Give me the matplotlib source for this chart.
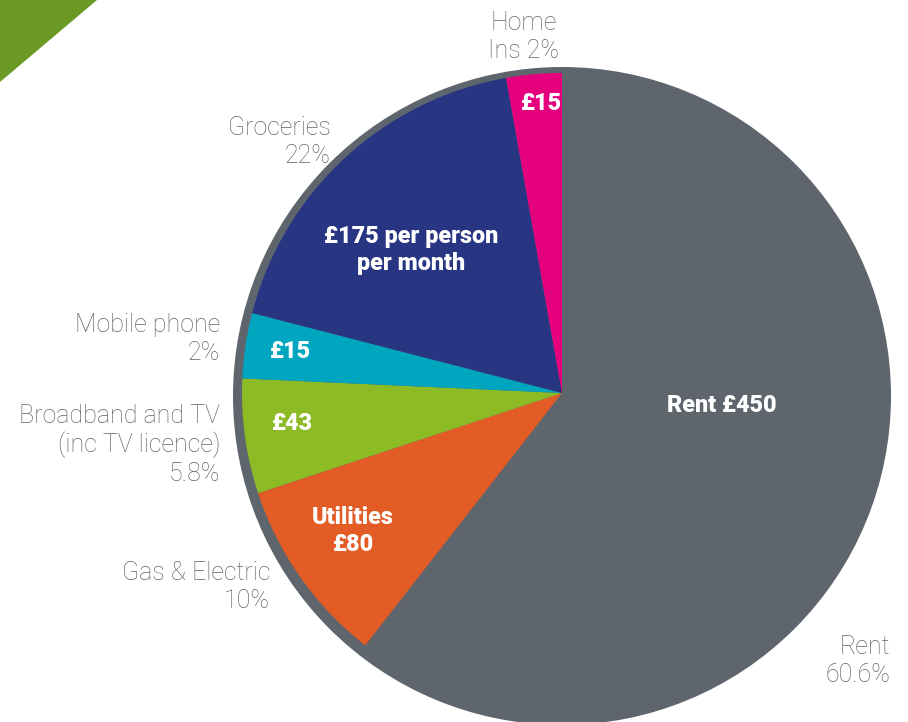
import matplotlib
matplotlib.use("Agg")
import matplotlib.pyplot as plt
from matplotlib.patches import Circle, Polygon

# drawn shares of the pie (clockwise from 12 o'clock)
categories = ["Rent", "Gas & Electric", "Broadband and TV", "Mobile phone", "Groceries", "Home Ins"]
shares = [60.6, 9.4, 5.8, 3.3, 18.2, 2.8]
amounts = ["Rent £450", "Utilities\n£80", "£43", "£15", "£175 per person\nper month", "£15"]
outer_labels = ["Rent\n60.6%", "Gas & Electric\n10%", "Broadband and TV\n(inc TV licence)\n5.8%",
                "Mobile phone\n2%", "Groceries\n22%", "Home\nIns 2%"]
colors = ["#5f656d", "#e35b25", "#8cbb26", "#00a5c0", "#283583", "#e5007d"]

W, H = 908, 722
GREY_TXT = "#5f656d"

# label positions in pixels from top-left
inner_pos = [(722, 406), (353, 531), (292, 423), (290, 351), (411, 250), (541, 104)]
outer_pos = [(890, 661, "right"), (270, 587, "right"), (220, 445, "right"),
             (220, 339, "right"), (331, 142, "right"), (524, 37, "center")]

plt.rcParams["font.family"] = ["Roboto", "DejaVu Sans"]

fig = plt.figure(figsize=(W / 100, H / 100), dpi=100)
ax = fig.add_axes([0, 0, 1, 1])

# corner triangle
ax.add_patch(Polygon([(0, H), (97, H), (0, H - 82)], closed=True, color="#6a9a23", lw=0))

# grey backing disc
ax.add_patch(Circle((562, H - 396), 329, color=colors[0], lw=0, zorder=1))

wedges, _ = ax.pie(shares, colors=colors, startangle=90, counterclock=False,
                   center=(562, H - 393), radius=320, frame=True,
                   wedgeprops=dict(linewidth=0))
for w in wedges:
    w.set_zorder(2)
ax.set_xlim(0, W)
ax.set_ylim(0, H)
ax.set_aspect("equal")
ax.axis("off")

for txt, (x, y) in zip(amounts, inner_pos):
    ax.text(x, H - y, txt, color="white", fontsize=16.8, fontweight="heavy",
            ha="center", va="center", linespacing=1.2, zorder=3)

for txt, (x, y, ha) in zip(outer_labels, outer_pos):
    ax.text(x, H - y, txt, color=GREY_TXT, fontsize=18, fontweight="light",
            ha=ha, va="center", linespacing=1.18, zorder=3,
            multialignment=ha)

fig.savefig("out.png", dpi=100)
